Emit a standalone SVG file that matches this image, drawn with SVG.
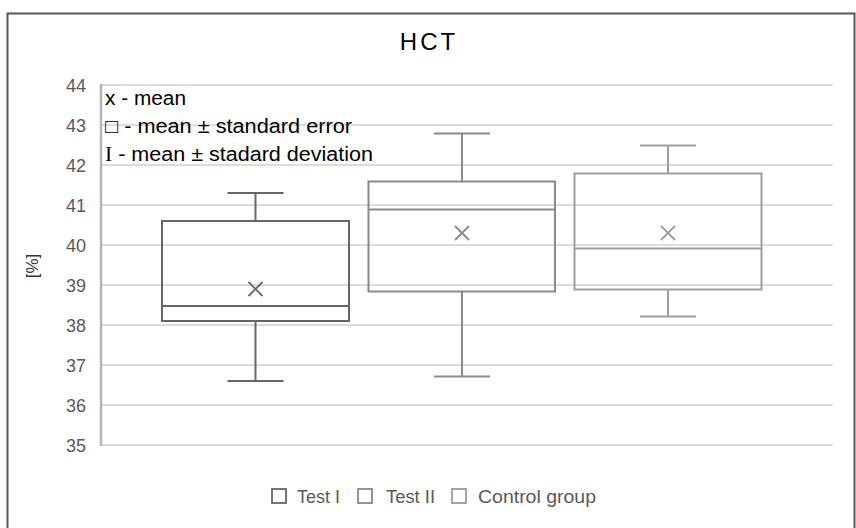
<svg xmlns="http://www.w3.org/2000/svg" width="856" height="528" viewBox="0 0 856 528">
<style>
.grid{stroke:#d0d0d0;stroke-width:1.6;fill:none}
.tick{font-family:"Liberation Sans",Arial,sans-serif;font-size:18px;fill:#595959;text-anchor:end}
.b1{stroke:#666666;stroke-width:2;fill:none}
.b2{stroke:#8a8a8a;stroke-width:2;fill:none}
.b3{stroke:#9d9d9d;stroke-width:2;fill:none}
.leg{font-family:"Liberation Sans",Arial,sans-serif;font-size:18px;fill:#595959}
.note{font-family:"Liberation Sans",Arial,sans-serif;font-size:20px;fill:#000}
</style>
<rect x="0" y="0" width="856" height="528" fill="#fff"/>
<rect x="7.5" y="13.5" width="847" height="520" fill="#fff" stroke="#595959" stroke-width="2"/>
<text x="429" y="50" text-anchor="middle" font-family="Liberation Sans, Arial, sans-serif" font-size="24" letter-spacing="3" fill="#000">HCT</text>
<g id="grid">
<line class="grid" x1="101" y1="85" x2="833" y2="85"/>
<line class="grid" x1="101" y1="125" x2="833" y2="125"/>
<line class="grid" x1="101" y1="165" x2="833" y2="165"/>
<line class="grid" x1="101" y1="205" x2="833" y2="205"/>
<line class="grid" x1="101" y1="245" x2="833" y2="245"/>
<line class="grid" x1="101" y1="285" x2="833" y2="285"/>
<line class="grid" x1="101" y1="325" x2="833" y2="325"/>
<line class="grid" x1="101" y1="365" x2="833" y2="365"/>
<line class="grid" x1="101" y1="405" x2="833" y2="405"/>
<line class="grid" x1="101" y1="445" x2="833" y2="445" stroke="#c4c4c4"/>
<line x1="101" y1="84" x2="101" y2="446" stroke="#b4b4b4" stroke-width="2.5"/>
</g>
<g id="yticks">
<text class="tick" x="86" y="92">44</text>
<text class="tick" x="86" y="132">43</text>
<text class="tick" x="86" y="172">42</text>
<text class="tick" x="86" y="212">41</text>
<text class="tick" x="86" y="252">40</text>
<text class="tick" x="86" y="292">39</text>
<text class="tick" x="86" y="332">38</text>
<text class="tick" x="86" y="372">37</text>
<text class="tick" x="86" y="412">36</text>
<text class="tick" x="86" y="452">35</text>
</g>
<text x="38" y="266" transform="rotate(-90 38 266)" text-anchor="middle" font-family="Liberation Sans, Arial, sans-serif" font-size="17" fill="#333">[%]</text>
<g id="notes">
<text class="note" x="105" y="105" textLength="81" lengthAdjust="spacingAndGlyphs">x - mean</text>
<text class="note" x="105" y="133" textLength="247" lengthAdjust="spacingAndGlyphs">□ - mean ± standard error</text>
<text class="note" x="105" y="161" textLength="268" lengthAdjust="spacingAndGlyphs"><tspan font-family="Liberation Serif, serif">I</tspan> - mean ± stadard deviation</text>
</g>
<g id="test-i" class="b1">
<rect x="162" y="221" width="187" height="100"/>
<line x1="162" y1="306" x2="349" y2="306"/>
<line x1="255.5" y1="221" x2="255.5" y2="193"/>
<line x1="227.5" y1="193" x2="283.5" y2="193"/>
<line x1="255.5" y1="321" x2="255.5" y2="381"/>
<line x1="227.5" y1="381" x2="283.5" y2="381"/>
<path d="M248.5 282 L262.5 296 M262.5 282 L248.5 296" stroke-width="1.8"/>
</g>
<g id="test-ii" class="b2">
<rect x="368.5" y="181.5" width="186.5" height="110"/>
<line x1="368.5" y1="209.5" x2="555" y2="209.5"/>
<line x1="462" y1="181.5" x2="462" y2="133.5"/>
<line x1="434" y1="133.5" x2="490" y2="133.5"/>
<line x1="462" y1="291.5" x2="462" y2="376.5"/>
<line x1="434" y1="376.5" x2="490" y2="376.5"/>
<path d="M455 226 L469 240 M469 226 L455 240" stroke-width="1.8"/>
</g>
<g id="control-group" class="b3">
<rect x="574.5" y="173.5" width="187" height="116"/>
<line x1="574.5" y1="248.5" x2="761.5" y2="248.5"/>
<line x1="668" y1="173.5" x2="668" y2="145.5"/>
<line x1="640" y1="145.5" x2="696" y2="145.5"/>
<line x1="668" y1="289.5" x2="668" y2="316.5"/>
<line x1="640" y1="316.5" x2="696" y2="316.5"/>
<path d="M661 226 L675 240 M675 226 L661 240" stroke-width="1.8"/>
</g>
<g id="legend">
<rect x="272" y="489" width="14" height="14" fill="none" stroke="#666666" stroke-width="1.8"/>
<text class="leg" x="297" y="503" textLength="43" lengthAdjust="spacingAndGlyphs">Test I</text>
<rect x="358" y="489" width="14" height="14" fill="none" stroke="#8a8a8a" stroke-width="1.8"/>
<text class="leg" x="386" y="503" textLength="49" lengthAdjust="spacingAndGlyphs">Test II</text>
<rect x="452" y="489" width="14" height="14" fill="none" stroke="#9d9d9d" stroke-width="1.8"/>
<text class="leg" x="478" y="503" textLength="118" lengthAdjust="spacingAndGlyphs">Control group</text>
</g>
</svg>
